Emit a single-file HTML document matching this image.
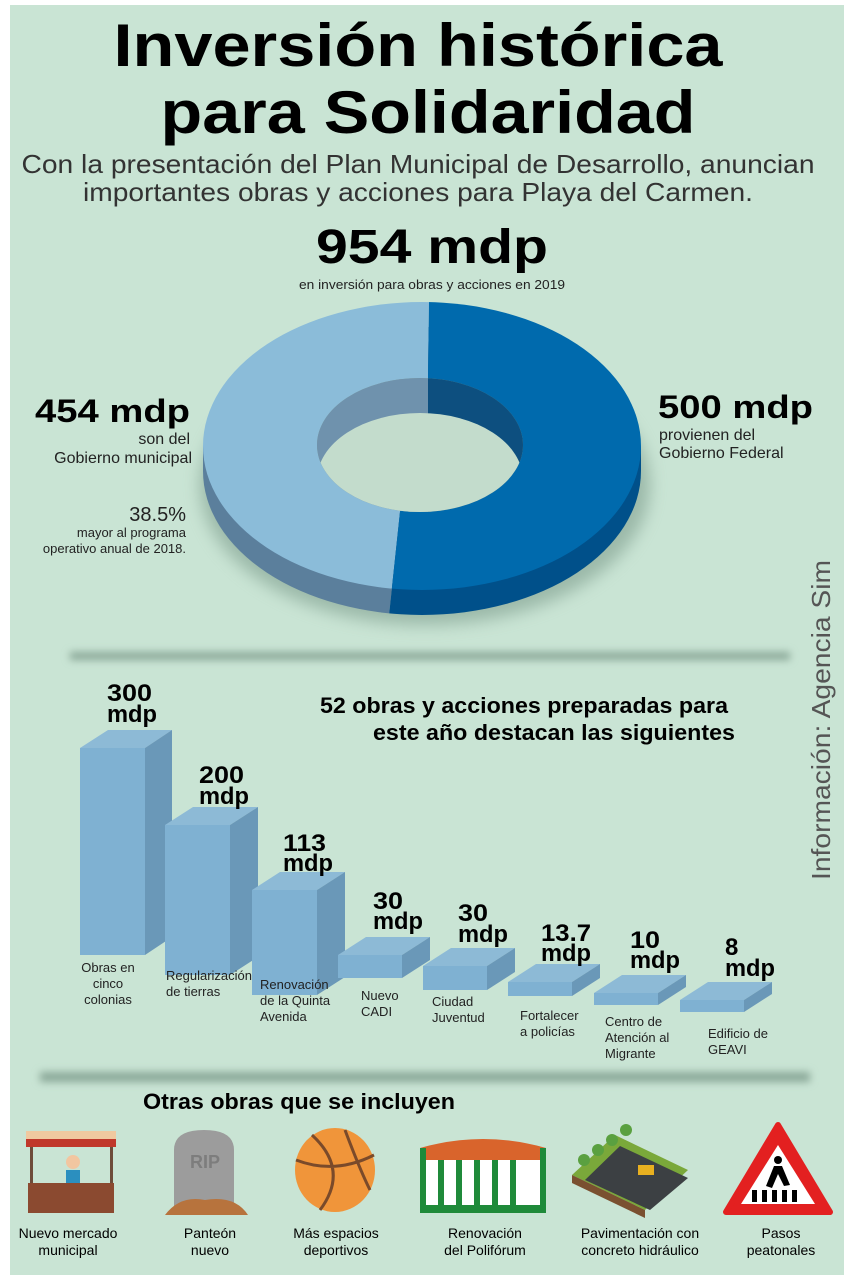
<!DOCTYPE html>
<html><head><meta charset="utf-8"><style>
html,body{margin:0;padding:0;background:#fff}
svg{display:block}
text{font-family:"Liberation Sans",sans-serif}
</style></head><body>
<svg width="854" height="1280" viewBox="0 0 854 1280" xmlns="http://www.w3.org/2000/svg">
<defs>
<filter id="blur" x="-20%" y="-50%" width="140%" height="200%"><feGaussianBlur stdDeviation="8"/></filter>
<filter id="blur2" x="-10%" y="-200%" width="120%" height="500%"><feGaussianBlur stdDeviation="4"/></filter>
<clipPath id="hole"><ellipse cx="420" cy="445" rx="103" ry="67"/></clipPath>
<clipPath id="leftc"><path d="M0,0 L433,0 L428,378 L400,512 L380,700 L0,700Z"/></clipPath>
<clipPath id="rightc"><path d="M433,0 L854,0 L854,700 L380,700 L400,512 L428,378Z"/></clipPath>
</defs>
<rect x="10" y="5" width="834" height="1270" fill="#c9e4d4"/>
<text x="418" y="66" font-size="60" font-weight="bold" text-anchor="middle" textLength="609" lengthAdjust="spacingAndGlyphs">Inversión histórica</text>
<text x="428" y="133" font-size="60" font-weight="bold" text-anchor="middle" textLength="535" lengthAdjust="spacingAndGlyphs">para Solidaridad</text>
<text x="418" y="173" font-size="26" text-anchor="middle" fill="#333" textLength="793" lengthAdjust="spacingAndGlyphs">Con la presentación del Plan Municipal de Desarrollo, anuncian</text>
<text x="418" y="201" font-size="26" text-anchor="middle" fill="#333" textLength="670" lengthAdjust="spacingAndGlyphs">importantes obras y acciones para Playa del Carmen.</text>
<text x="432" y="263" font-size="48" font-weight="bold" text-anchor="middle" textLength="232" lengthAdjust="spacingAndGlyphs">954 mdp</text>
<text x="432" y="289" font-size="13" text-anchor="middle" fill="#222" textLength="266" lengthAdjust="spacingAndGlyphs">en inversión para obras y acciones en 2019</text>

<!-- donut -->
<ellipse cx="425" cy="485" rx="225" ry="140" fill="#7d9c8c" opacity="0.6" filter="url(#blur)"/>
<g clip-path="url(#leftc)">
<ellipse cx="422" cy="471" rx="219" ry="144" fill="#5b7f9c"/>
<rect x="203" y="446" width="240" height="25" fill="#5b7f9c"/>
<ellipse cx="422" cy="446" rx="219" ry="144" fill="#8bbcd9"/>
</g>
<g clip-path="url(#rightc)">
<ellipse cx="422" cy="471" rx="219" ry="144" fill="#00508a"/>
<rect x="400" y="446" width="241" height="25" fill="#00508a"/>
<ellipse cx="422" cy="446" rx="219" ry="144" fill="#006aad"/>
</g>
<g clip-path="url(#hole)">
<rect x="300" y="370" width="240" height="150" fill="#8aa590"/>
<rect x="300" y="370" width="128" height="150" fill="#6f92ad"/>
<rect x="428" y="370" width="120" height="150" fill="#0d4f7f"/>
<ellipse cx="420" cy="480" rx="103" ry="67" fill="#c3dccc"/>
</g>

<text x="190" y="422" font-size="32" font-weight="bold" text-anchor="end" textLength="155" lengthAdjust="spacingAndGlyphs">454 mdp</text>
<text x="190" y="444" font-size="16" text-anchor="end" fill="#222">son del</text>
<text x="192" y="463" font-size="16" text-anchor="end" fill="#222">Gobierno municipal</text>
<text x="186" y="521" font-size="20" text-anchor="end" fill="#222">38.5%</text>
<text x="186" y="537" font-size="13" text-anchor="end" fill="#222">mayor al programa</text>
<text x="186" y="553" font-size="13" text-anchor="end" fill="#222">operativo anual de 2018.</text>
<text x="658" y="418" font-size="32" font-weight="bold" textLength="155" lengthAdjust="spacingAndGlyphs">500 mdp</text>
<text x="659" y="440" font-size="16" fill="#222">provienen del</text>
<text x="659" y="458" font-size="16" fill="#222">Gobierno Federal</text>

<text transform="translate(830,880) rotate(-90)" font-size="26" fill="#555" textLength="320" lengthAdjust="spacingAndGlyphs">Información: Agencia Sim</text>

<rect x="70" y="652" width="720" height="8" fill="#8aa898" filter="url(#blur2)"/>
<rect x="40" y="1072" width="770" height="10" fill="#8aa898" filter="url(#blur2)"/>

<text x="728" y="713" font-size="22" font-weight="bold" text-anchor="end" textLength="408" lengthAdjust="spacingAndGlyphs">52 obras y acciones preparadas para</text>
<text x="735" y="740" font-size="22" font-weight="bold" text-anchor="end" textLength="362" lengthAdjust="spacingAndGlyphs">este año destacan las siguientes</text>

<g>
<path d="M80,748 L108,730 L172,730 L145,748Z" fill="#8dbad6"/>
<path d="M145,748 L172,730 L172,937 L145,955Z" fill="#6a98b8"/><rect x="80" y="748" width="65" height="207" fill="#7fb1d2"/>
<path d="M165,825 L193,807 L258,807 L230,825Z" fill="#8dbad6"/><path d="M230,825 L258,807 L258,957 L230,975Z" fill="#6a98b8"/><rect x="165" y="825" width="65" height="150" fill="#7fb1d2"/>
<path d="M252,890 L280,872 L345,872 L317,890Z" fill="#8dbad6"/><path d="M317,890 L345,872 L345,977 L317,995Z" fill="#6a98b8"/><rect x="252" y="890" width="65" height="105" fill="#7fb1d2"/>
<path d="M338,955 L366,937 L430,937 L402,955Z" fill="#8dbad6"/><path d="M402,955 L430,937 L430,960 L402,978Z" fill="#6a98b8"/><rect x="338" y="955" width="64" height="23" fill="#7fb1d2"/>
<path d="M423,966 L451,948 L515,948 L487,966Z" fill="#8dbad6"/><path d="M487,966 L515,948 L515,972 L487,990Z" fill="#6a98b8"/><rect x="423" y="966" width="64" height="24" fill="#7fb1d2"/>
<path d="M508,982 L536,964 L600,964 L572,982Z" fill="#8dbad6"/><path d="M572,982 L600,964 L600,978 L572,996Z" fill="#6a98b8"/><rect x="508" y="982" width="64" height="14" fill="#7fb1d2"/>
<path d="M594,993 L622,975 L686,975 L658,993Z" fill="#8dbad6"/><path d="M658,993 L686,975 L686,987 L658,1005Z" fill="#6a98b8"/><rect x="594" y="993" width="64" height="12" fill="#7fb1d2"/>
<path d="M680,1000 L708,982 L772,982 L744,1000Z" fill="#8dbad6"/><path d="M744,1000 L772,982 L772,994 L744,1012Z" fill="#6a98b8"/><rect x="680" y="1000" width="64" height="12" fill="#7fb1d2"/>
</g>
<g font-size="24" font-weight="bold">
<text x="107" y="701" textLength="45" lengthAdjust="spacingAndGlyphs">300</text><text x="107" y="722" textLength="50" lengthAdjust="spacingAndGlyphs">mdp</text>
<text x="199" y="783" textLength="45" lengthAdjust="spacingAndGlyphs">200</text><text x="199" y="804" textLength="50" lengthAdjust="spacingAndGlyphs">mdp</text>
<text x="283" y="851" textLength="43" lengthAdjust="spacingAndGlyphs">113</text><text x="283" y="871" textLength="50" lengthAdjust="spacingAndGlyphs">mdp</text>
<text x="373" y="909" textLength="30" lengthAdjust="spacingAndGlyphs">30</text><text x="373" y="929" textLength="50" lengthAdjust="spacingAndGlyphs">mdp</text>
<text x="458" y="921" textLength="30" lengthAdjust="spacingAndGlyphs">30</text><text x="458" y="942" textLength="50" lengthAdjust="spacingAndGlyphs">mdp</text>
<text x="541" y="941" textLength="50" lengthAdjust="spacingAndGlyphs">13.7</text><text x="541" y="961" textLength="50" lengthAdjust="spacingAndGlyphs">mdp</text>
<text x="630" y="948" textLength="30" lengthAdjust="spacingAndGlyphs">10</text><text x="630" y="968" textLength="50" lengthAdjust="spacingAndGlyphs">mdp</text>
<text x="725" y="955">8</text><text x="725" y="976" textLength="50" lengthAdjust="spacingAndGlyphs">mdp</text>
</g>
<g font-size="13" fill="#222">
<text x="108" y="972" text-anchor="middle">Obras en</text><text x="108" y="988" text-anchor="middle">cinco</text><text x="108" y="1004" text-anchor="middle">colonias</text>
<text x="166" y="980">Regularización</text><text x="166" y="996">de tierras</text>
<text x="260" y="989">Renovación</text><text x="260" y="1005">de la Quinta</text><text x="260" y="1021">Avenida</text>
<text x="361" y="1000">Nuevo</text><text x="361" y="1016">CADI</text>
<text x="432" y="1006">Ciudad</text><text x="432" y="1022">Juventud</text>
<text x="520" y="1020">Fortalecer</text><text x="520" y="1036">a policías</text>
<text x="605" y="1026">Centro de</text><text x="605" y="1042">Atención al</text><text x="605" y="1058">Migrante</text>
<text x="708" y="1038">Edificio de</text><text x="708" y="1054">GEAVI</text>
</g>

<text x="143" y="1109" font-size="22" font-weight="bold" textLength="312" lengthAdjust="spacingAndGlyphs">Otras obras que se incluyen</text>

<rect x="26" y="1131" width="90" height="8" fill="#f0c9a0"/>
<rect x="26" y="1139" width="90" height="8" fill="#c0382b"/>
<rect x="30" y="1147" width="3" height="40" fill="#6d4c3a"/><rect x="110" y="1147" width="3" height="40" fill="#6d4c3a"/>
<circle cx="73" cy="1162" r="7" fill="#f2c6a0"/><rect x="66" y="1170" width="14" height="16" fill="#2b8fbf"/>
<rect x="28" y="1183" width="86" height="30" fill="#8b4a30"/>
<text x="68" y="1238" font-size="14" text-anchor="middle">Nuevo mercado</text>
<text x="68" y="1255" font-size="14" text-anchor="middle">municipal</text>
<path d="M174,1210 L174,1150 Q174,1130 204,1130 Q234,1130 234,1150 L234,1210Z" fill="#9c9c9c"/>
<text x="190" y="1168" font-size="18" font-weight="bold" fill="#7d7d7d">RIP</text>
<path d="M165,1215 Q180,1195 205,1200 Q235,1195 248,1215Z" fill="#b7733d"/>
<text x="210" y="1238" font-size="14" text-anchor="middle">Panteón</text>
<text x="210" y="1255" font-size="14" text-anchor="middle">nuevo</text>
<ellipse cx="335" cy="1170" rx="40" ry="42" fill="#f0953a"/>
<path d="M296,1160 Q335,1175 374,1155 M312,1135 Q350,1170 320,1210 M345,1130 Q360,1170 370,1190" stroke="#7a4a2a" stroke-width="3" fill="none"/>
<text x="336" y="1238" font-size="14" text-anchor="middle">Más espacios</text>
<text x="336" y="1255" font-size="14" text-anchor="middle">deportivos</text>
<path d="M420,1148 Q483,1130 546,1148Z" fill="#d9642c"/>
<rect x="420" y="1148" width="126" height="12" fill="#d9642c"/>
<rect x="420" y="1160" width="126" height="50" fill="#fff"/>
<g fill="#1f8a3a"><rect x="420" y="1148" width="6" height="62"/><rect x="438" y="1160" width="6" height="50"/><rect x="456" y="1160" width="6" height="50"/><rect x="474" y="1160" width="6" height="50"/><rect x="492" y="1160" width="6" height="50"/><rect x="510" y="1160" width="6" height="50"/><rect x="540" y="1148" width="6" height="62"/><rect x="420" y="1205" width="126" height="8"/></g>
<text x="485" y="1238" font-size="14" text-anchor="middle">Renovación</text>
<text x="485" y="1255" font-size="14" text-anchor="middle">del Polifórum</text>
<path d="M572,1175 L615,1135 L688,1170 L645,1210Z" fill="#7aa83a"/>
<path d="M585,1180 L620,1146 L688,1178 L650,1210Z" fill="#3c4043"/>
<path d="M572,1175 L645,1210 L645,1218 L572,1183Z" fill="#7a5030"/>
<circle cx="584" cy="1160" r="6" fill="#5aa040"/><circle cx="598" cy="1150" r="6" fill="#5aa040"/><circle cx="612" cy="1140" r="6" fill="#5aa040"/><circle cx="626" cy="1130" r="6" fill="#5aa040"/>
<rect x="638" y="1165" width="16" height="10" fill="#e8b020"/>
<text x="640" y="1238" font-size="14" text-anchor="middle">Pavimentación con</text>
<text x="640" y="1255" font-size="14" text-anchor="middle">concreto hidráulico</text>
<path d="M778,1125 L830,1212 L726,1212Z" fill="#e32020" stroke="#e32020" stroke-width="6" stroke-linejoin="round"/>
<path d="M778,1145 L815,1204 L741,1204Z" fill="#fff"/>
<g fill="#000"><rect x="752" y="1190" width="5" height="12"/><rect x="762" y="1190" width="5" height="12"/><rect x="772" y="1190" width="5" height="12"/><rect x="782" y="1190" width="5" height="12"/><rect x="792" y="1190" width="5" height="12"/>
<circle cx="778" cy="1160" r="4"/><path d="M774,1166 L782,1166 L790,1185 L784,1186 L778,1174 L772,1188 L766,1186Z"/></g>
<text x="781" y="1238" font-size="14" text-anchor="middle">Pasos</text>
<text x="781" y="1255" font-size="14" text-anchor="middle">peatonales</text>
</svg>
</body></html>
